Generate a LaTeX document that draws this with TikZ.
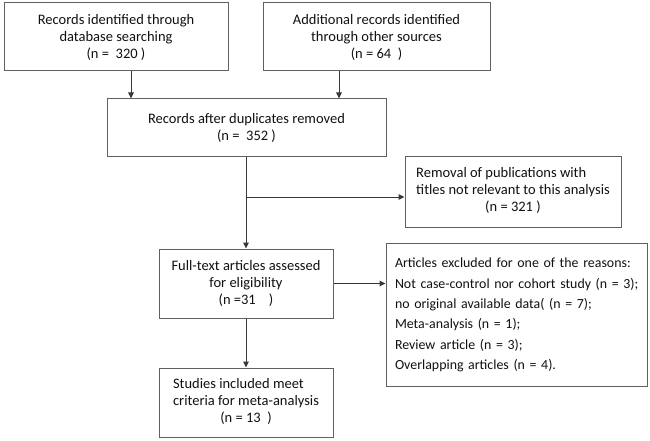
\documentclass[tikz,border=0pt]{standalone}
\usepackage{fontspec}
\setmainfont{Carlito}
\usetikzlibrary{arrows.meta}
\definecolor{boxline}{HTML}{606060}
\definecolor{arrline}{HTML}{383838}
\definecolor{txt}{HTML}{111111}
\begin{document}
\begin{tikzpicture}[x=1pt,y=-1pt,
  box/.style={draw=boxline, line width=1pt, fill=white, text=txt, inner sep=0pt,
    font=\fontsize{14.5}{17}\selectfont, align=center},
  arr/.style={draw=arrline, line width=1pt, -{Triangle[length=6pt,width=5.5pt]}}]
\useasboundingbox[fill=white] (0,0) rectangle (650,441);

\node[box, minimum width=224pt, minimum height=68pt] (b1) at (116,37)
  {Records identified through\\database searching\\(n =\ \ 320 )};
\node[box, minimum width=227pt, minimum height=68pt] (b2) at (376.5,37)
  {Additional records identified\\through other sources\\(n = 64\ \ )};
\node[box, minimum width=279pt, minimum height=57pt] (b3) at (246.5,127.5)
  {Records after duplicates removed\\(n =\ \ 352 )};
\node[box, minimum width=216pt, minimum height=71pt] (b4) at (513,191.5)
  {\begin{tabular}{@{}l@{}}Removal of publications with\\titles not relevant to this analysis\\\multicolumn{1}{@{}c@{}}{(n = 321 )}\end{tabular}};
\node[box, minimum width=174pt, minimum height=69pt] (b5) at (246,283.5)
  {Full-text articles assessed\\for eligibility\\(n =31\ \ \ \ )};
\node[box, minimum width=261pt, minimum height=143pt, text width=243pt, align=left,
  font=\fontsize{13.9}{20.3}\selectfont] (b6) at (516.5,314.5)
  {\begin{tabular}{@{}l@{}}Articles excluded for one of the reasons:\\Not case-control nor cohort study (n = 3);\\no original available data( (n = 7);\\Meta-analysis (n = 1);\\Review article (n = 3);\\Overlapping articles (n = 4).\end{tabular}};
\node[box, minimum width=174pt, minimum height=69pt] (b7) at (246,402.5)
  {\begin{tabular}{@{}l@{}}Studies included meet\\criteria for meta-analysis\\\multicolumn{1}{@{}c@{}}{(n = 13\ \ )}\end{tabular}};

\draw[arr] ([xshift=15pt]b1.south) -- ([xshift=15pt]b1.south |- b3.north);
\draw[arr] ([xshift=-37.5pt]b2.south) -- ([xshift=-37.5pt]b2.south |- b3.north);
\draw[arr] ([xshift=-0.5pt]b3.south) -- (b5.north);
\coordinate (br) at (246,197);
\draw[arr] (br) -- (br -| b4.west);
\draw[arr] (b5.east) -- (b5.east -| b6.west);
\draw[arr] (b5.south) -- (b7.north);
\end{tikzpicture}
\end{document}
